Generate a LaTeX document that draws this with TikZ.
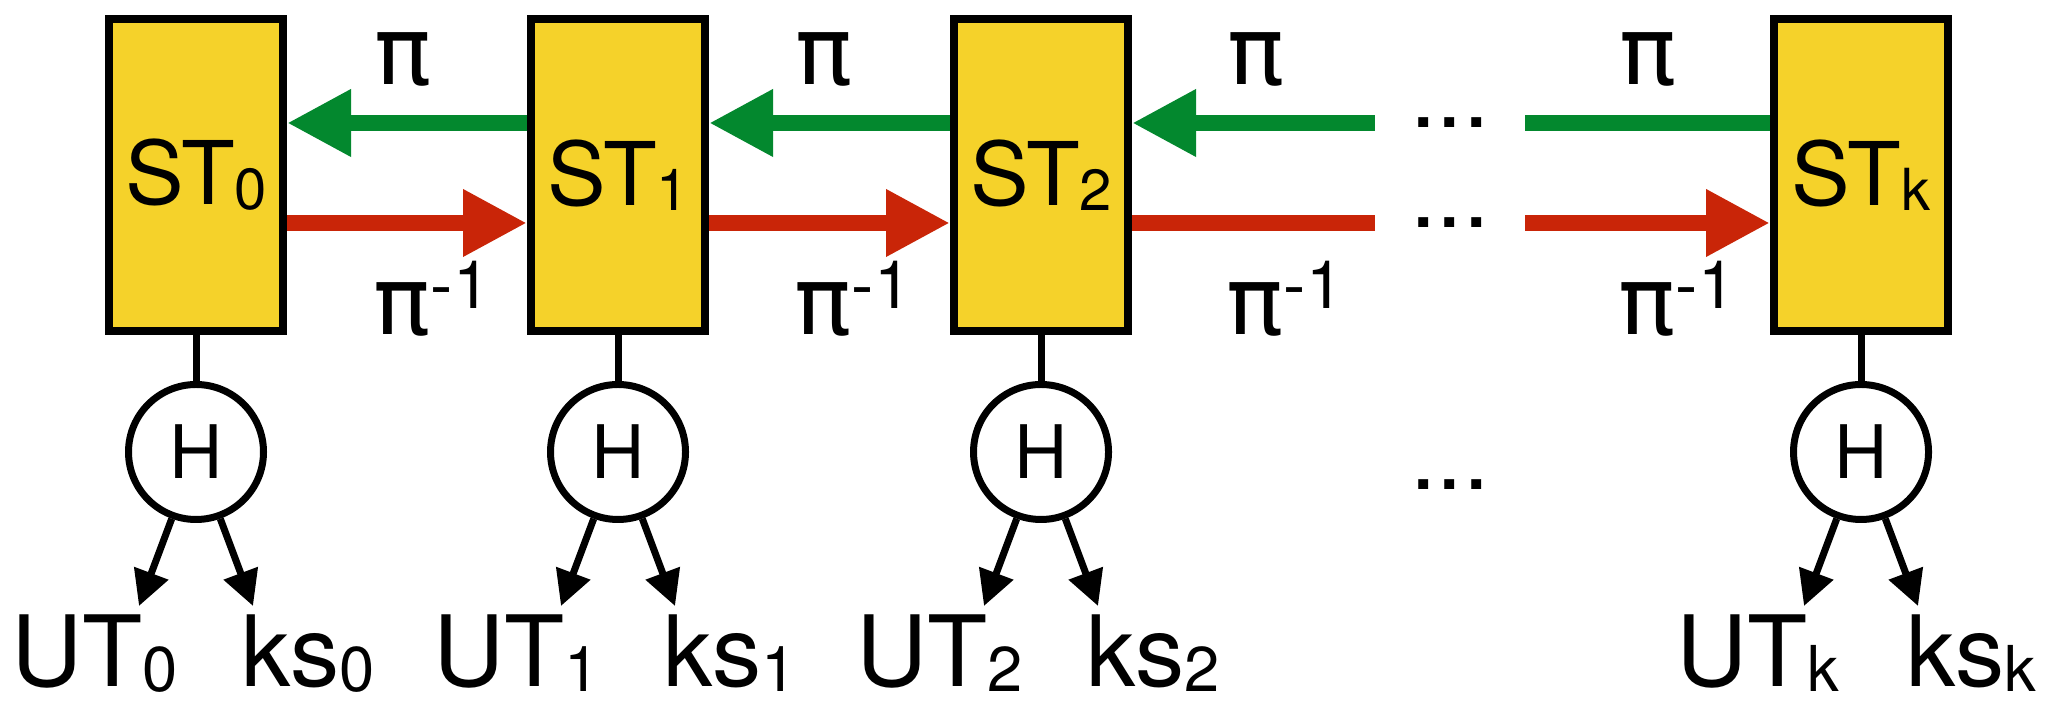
\documentclass[tikz,border=0pt]{standalone}
\usepackage{fontspec}
\setmainfont{TeX Gyre Heros}
\newfontfamily\greekfont{DejaVu Sans}
\usepackage{tikz}
\usetikzlibrary{positioning, arrows.meta}

\definecolor{stateyellow}{RGB}{245,210,42}
\definecolor{permgreen}{RGB}{3,136,46}
\definecolor{invred}{RGB}{201,37,8}

% lowered index and raised inverse
\newcommand{\lowidx}[2][16.5pt]{\raisebox{-1.4pt}{\fontsize{#1}{#1}\selectfont #2}}
\newcommand{\invsup}{\raisebox{7.5pt}{\fontsize{19pt}{19pt}\selectfont -1}}
\newcommand{\perm}{{\greekfont π}}

\begin{document}
\begin{tikzpicture}[
    stbox/.style={draw, line width=0.08cm, fill=stateyellow, minimum width=1.74cm, minimum height=3.12cm, inner sep=0, font=\fontsize{25pt}{25pt}\selectfont},
    hnode/.style={draw, circle, fill=white, line width=0.07cm, minimum size=1.35cm, inner sep=0, font=\fontsize{21pt}{21pt}\selectfont},
    outlab/.style={inner sep=0, anchor=base west, font=\fontsize{28pt}{28pt}\selectfont},
    plab/.style={inner sep=0, font=\fontsize{27pt}{27pt}\selectfont},
    dotsnode/.style={inner sep=0, minimum width=1.49cm, font=\fontsize{27pt}{27pt}\selectfont},
    fwd/.style={line width=0.16cm, permgreen, -{Triangle[length=0.64cm, width=0.63cm]}},
    bwd/.style={line width=0.16cm, invred, -{Triangle[length=0.64cm, width=0.63cm]}},
    link/.style={line width=0.07cm},
    hasharr/.style={line width=0.07cm, -{Triangle[length=0.35cm, width=0.35cm]}}
]
\useasboundingbox (0,0) rectangle (20.45,7.05);

% ---- States, hash and outputs ----
\foreach \i/\x in {0/1.96, 1/6.18, 2/10.41, k/18.61} {
    \node[stbox] (st\i) at (\x, 5.30) {ST\lowidx{\i}};
    \node[hnode] (h\i) at (\x, 2.53) {H};
    \draw[link] (st\i) -- (h\i);
    \coordinate (utip\i) at (\x-0.57, 0.99);
    \coordinate (ktip\i) at (\x+0.57, 0.99);
    \node[outlab] (ut\i) at (\x-1.85, 0.18) {UT\lowidx[18pt]{\i}};
    \node[outlab] (ks\i) at (\x+0.45, 0.18) {ks\lowidx[18pt]{\i}};
    \draw[hasharr] (h\i.250) -- (utip\i);
    \draw[hasharr] (h\i.290) -- (ktip\i);
}

% ---- Gaps ----
\node[dotsnode] (dg) at (14.50, 5.82) {...};
\node[dotsnode] (dr) at (14.50, 4.82) {...};
\node[dotsnode] (dh) at (14.50, 2.20) {...};

% ---- Permutation arrows ----
\draw[fwd] ([yshift=0.52cm]st1.west) -- ([yshift=0.52cm]st0.east);
\draw[fwd] ([yshift=0.52cm]st2.west) -- ([yshift=0.52cm]st1.east);
\draw[fwd] (dg.west) -- ([yshift=0.52cm]st2.east);
\draw[fwd, -] ([yshift=0.52cm]stk.west) -- (dg.east);

\draw[bwd] ([yshift=-0.48cm]st0.east) -- ([yshift=-0.48cm]st1.west);
\draw[bwd] ([yshift=-0.48cm]st1.east) -- ([yshift=-0.48cm]st2.west);
\draw[bwd, -] ([yshift=-0.48cm]st2.east) -- (dr.west);
\draw[bwd] (dr.east) -- ([yshift=-0.48cm]stk.west);

% ---- Labels ----
\foreach \n/\x in {1/4.03, 2/8.24, 3/12.56, 4/16.48} {
    \node[plab, anchor=base] (pi\n) at (\x, 6.20) {\perm};
    \node[plab, anchor=base west] (piinv\n) at (\x-0.30, 3.70) {\perm\invsup};
}

\end{tikzpicture}
\end{document}
